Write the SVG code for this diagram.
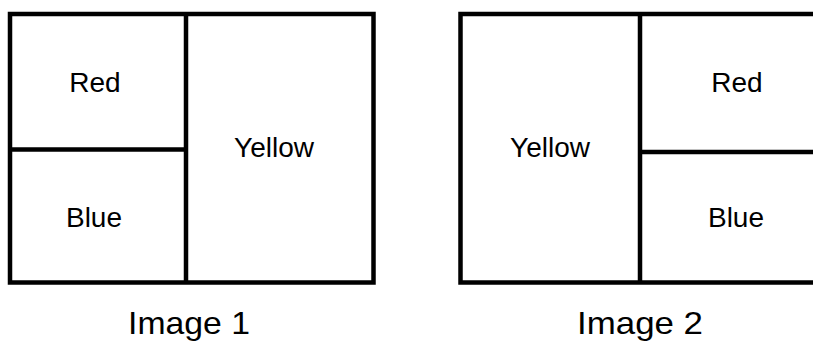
<svg xmlns="http://www.w3.org/2000/svg" width="813" height="342" viewBox="0 0 813 342">
<style>
.box{fill:none;stroke:#000;stroke-width:4.5}
.t{font-family:"Liberation Sans",Arial,sans-serif;font-size:28px;fill:#000;text-anchor:middle}
.cap{font-family:"Liberation Sans",Arial,sans-serif;font-size:32px;fill:#000;text-anchor:middle}
</style>
<rect width="813" height="342" fill="#fff"/>
<g id="image1">
<rect class="box" x="10" y="14" width="363.5" height="268.5"/>
<line class="box" x1="186" y1="14" x2="186" y2="282.5"/>
<line class="box" x1="10" y1="149.5" x2="186" y2="149.5"/>
<g id="i1-red"><text class="t" x="95" y="92">Red</text></g>
<g id="i1-blue"><text class="t" x="94" y="227">Blue</text></g>
<g id="i1-yellow"><text class="t" x="274" y="157">Yellow</text></g>
<text class="cap" x="189" y="334" textLength="122" lengthAdjust="spacingAndGlyphs">Image 1</text>
</g>
<g id="image2">
<rect class="box" x="460.5" y="14" width="380" height="268.5"/>
<line class="box" x1="640" y1="14" x2="640" y2="282.5"/>
<line class="box" x1="640" y1="152" x2="813" y2="152"/>
<g id="i2-yellow"><text class="t" x="550" y="157">Yellow</text></g>
<g id="i2-red"><text class="t" x="737" y="92">Red</text></g>
<g id="i2-blue"><text class="t" x="736" y="227">Blue</text></g>
<text class="cap" x="640" y="334" textLength="126" lengthAdjust="spacingAndGlyphs">Image 2</text>
</g>
<g id="connectors"></g>
</svg>
